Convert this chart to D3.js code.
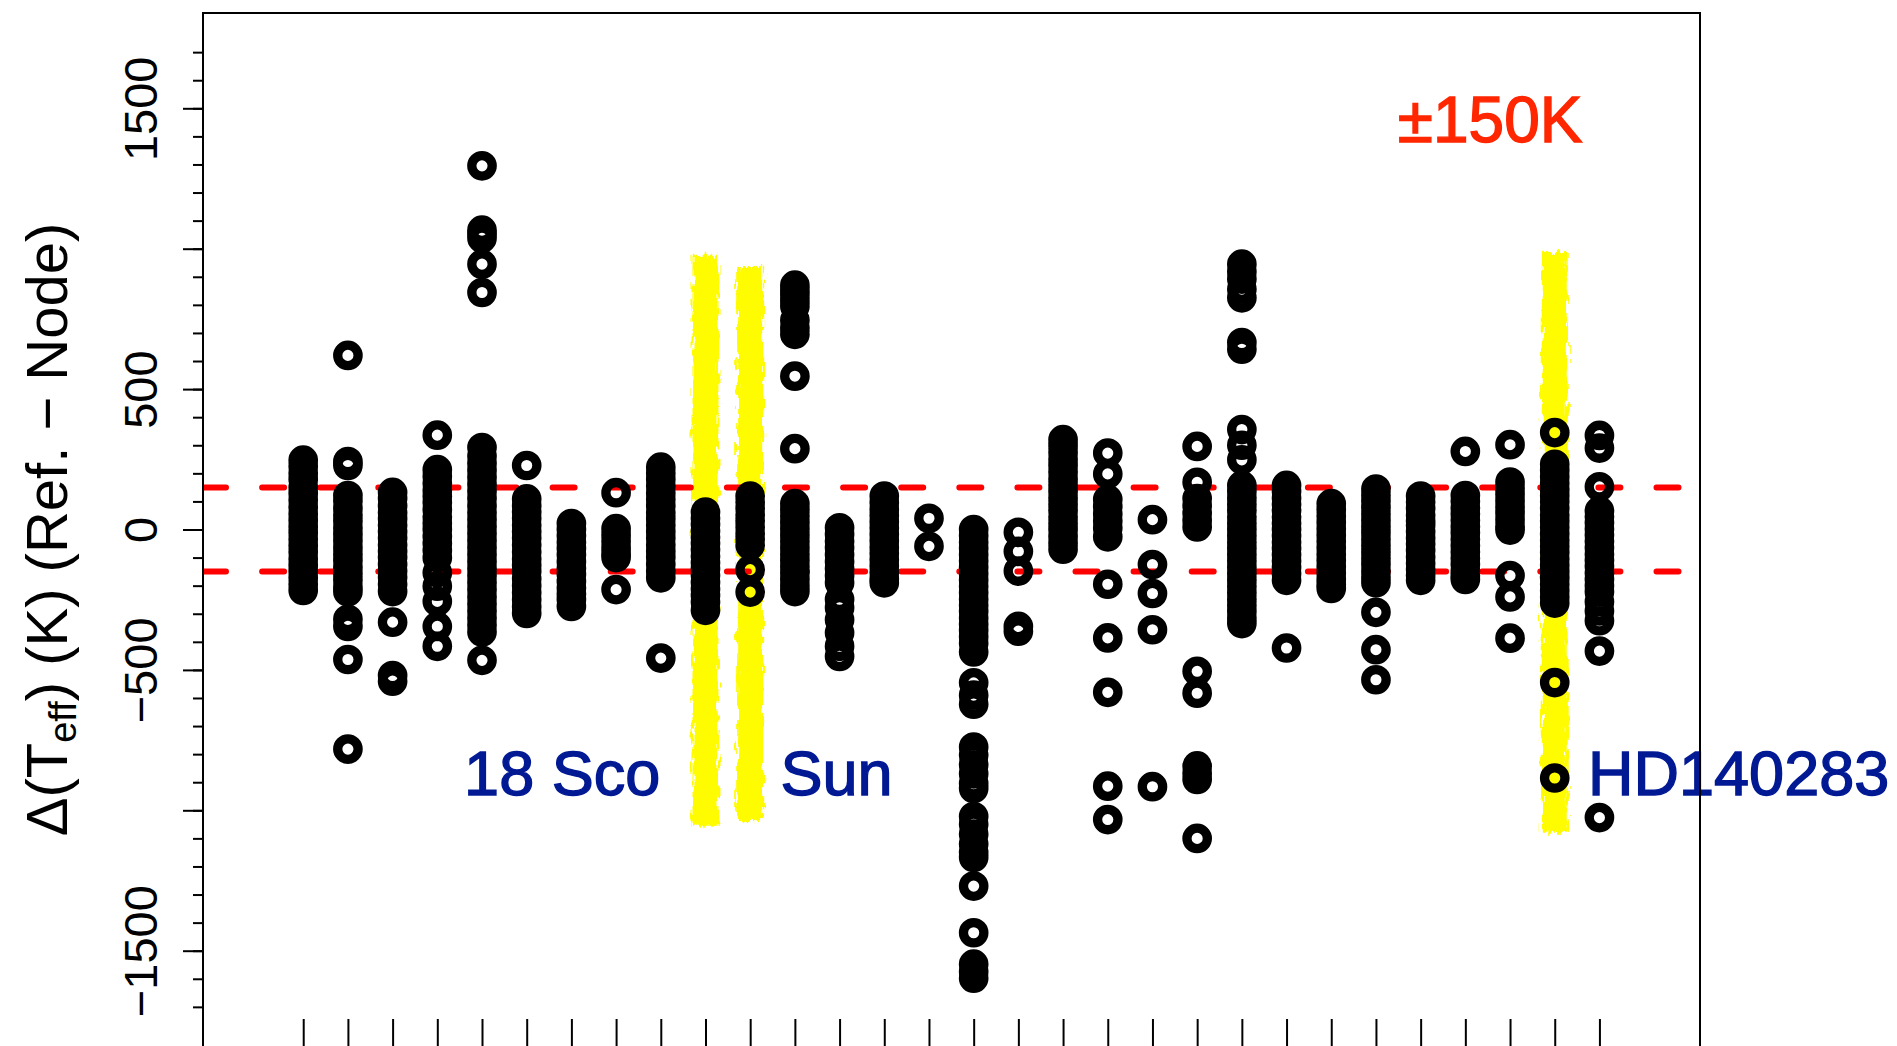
<!DOCTYPE html>
<html><head><meta charset="utf-8">
<script src="https://cdn.jsdelivr.net/npm/d3@7"></script>
<style>html,body{margin:0;padding:0;background:#fff;overflow:hidden}</style>
</head><body>
<svg id="chart" width="1897" height="1046"></svg>
<script>
// ---------- data ----------
const stars = [1,2,3,4,5,6,7,8,9,10,11,12,13,14,15,16,17,18,19,20,21,22,23,24,25,26,27,28,29,30];

const dTeff = [
  [247,225,200,178,150,128,105,80,55,32,10,-12,-35,-58,-80,-105,-128,-150,-172,-195,-217],
  [620,242,228,121,100,75,52,30,5,-18,-40,-65,-88,-110,-135,-158,-180,-205,-222,-320,-345,-463,-782],
  [132,110,85,60,38,15,-8,-30,-55,-78,-100,-125,-148,-170,-195,-221,-330,-520,-540],
  [336,213,190,165,140,118,95,70,45,22,0,-25,-50,-75,-101,-154,-202,-256,-345,-416],
  [1295,1066,1052,1037,945,844,292,262,235,210,185,160,135,110,85,60,35,10,-15,-40,-65,-90,-115,-140,-165,-190,-215,-240,-265,-290,-315,-340,-365,-466],
  [228,109,85,62,40,15,-8,-30,-55,-80,-105,-128,-150,-175,-200,-225,-250,-275,-299],
  [21,0,-22,-45,-68,-90,-115,-138,-160,-185,-208,-230,-249,-274],
  [131,3,-20,-42,-65,-85,-100,-214],
  [222,200,178,155,130,108,85,60,38,15,-8,-30,-55,-78,-100,-125,-150,-172,-458],
  [62,40,18,-5,-28,-50,-72,-95,-118,-140,-163,-189,-212,-235,-258,-288],
  [119,97,75,52,30,8,-15,-35,-56,-143,-223],
  [870,852,835,815,795,745,718,695,546,288,92,70,48,25,3,-20,-42,-65,-88,-110,-133,-155,-178,-200,-221],
  [6,-18,-42,-65,-90,-115,-140,-165,-190,-249,-279,-321,-368,-416,-452],
  [119,95,72,50,28,5,-18,-40,-63,-85,-108,-130,-152,-175,-190],
  [40,-60],
  [0,-22,-45,-68,-90,-112,-135,-158,-180,-202,-225,-248,-270,-292,-315,-338,-360,-382,-405,-436,-546,-590,-622,-775,-805,-838,-870,-905,-922,-1022,-1050,-1085,-1120,-1150,-1168,-1270,-1436,-1548,-1575,-1598],
  [-10,-78,-148,-345,-362],
  [320,298,275,250,228,205,180,158,135,112,90,68,45,22,0,-25,-48,-70],
  [272,198,107,82,55,30,5,-26,-195,-386,-580,-914,-1033],
  [35,-125,-228,-357,-916],
  [296,168,110,85,58,32,9,-505,-583,-842,-868,-890,-1100],
  [945,918,892,856,825,666,642,356,300,248,157,135,112,90,68,45,22,0,-22,-45,-68,-90,-112,-135,-158,-180,-202,-225,-248,-270,-292,-315,-335],
  [157,135,112,90,68,45,22,0,-22,-45,-68,-90,-112,-135,-158,-181,-422],
  [92,70,48,25,3,-20,-42,-65,-88,-110,-133,-155,-178,-195,-210],
  [144,122,100,78,55,32,10,-12,-35,-58,-80,-102,-125,-148,-170,-190,-295,-428,-535],
  [119,97,75,52,30,15,-8,-30,-52,-75,-98,-120,-142,-163,-181],
  [278,121,99,77,55,33,10,-12,-35,-58,-80,-102,-125,-148,-165,-178],
  [302,169,147,125,102,80,58,35,12,-2,-164,-240,-387],
  [345,232,210,188,165,142,120,98,75,52,30,8,-15,-38,-60,-82,-105,-128,-150,-172,-195,-218,-240,-262,-545,-885],
  [335,290,152,66,46,24,2,-20,-42,-65,-88,-110,-132,-155,-178,-200,-222,-257,-290,-325,-433,-1026]
];

const highlightStars = [10, 11, 29];
const highlightTop = [975, 935, 985];
const highlightBottom = [-1055, -1035, -1080];

const limitLines = [150, -150];
const limitLabel = "±150K";
const starNames = ["18 Sco", "Sun", "HD140283"];

const yMinorTicks = d3.range(-1700, 1701, 100);
const yMajorTicks = [1500, 1000, 500, 0, -500, -1000, -1500];
const yTickLabels = [1500, 500, 0, -500, -1500];

// ---------- layout ----------
const FONT = "'Liberation Sans', Arial, Helvetica, sans-serif";
const svg = d3.select("#chart");
const L = 203, R = 1700, T = 13, B = 1060;

const x = d3.scaleLinear().domain([-1.242, 32.25]).range([L, R]);
const y = d3.scaleLinear().domain([-1700, 1700]).range([529.5 + 0.2808 * 1700, 529.5 - 0.2808 * 1700]);

const defs = svg.append("defs");
defs.append("clipPath").attr("id", "plotclip")
  .append("rect").attr("x", L).attr("y", T).attr("width", R - L).attr("height", B - T);
const f = defs.append("filter").attr("id", "rough")
  .attr("x", "-40%").attr("y", "-5%").attr("width", "180%").attr("height", "110%");
f.append("feTurbulence").attr("type", "fractalNoise").attr("baseFrequency", "0.3 0.07")
  .attr("numOctaves", 2).attr("seed", 4).attr("result", "n");
f.append("feDisplacementMap").attr("in", "SourceGraphic").attr("in2", "n")
  .attr("scale", 12).attr("xChannelSelector", "R").attr("yChannelSelector", "G");

svg.append("rect").attr("width", 1897).attr("height", 1046).attr("fill", "#fff");

// highlight bands
svg.append("g").selectAll("rect").data(highlightStars).join("rect")
  .attr("x", d => x(d) - 13).attr("width", 26)
  .attr("y", (d, i) => y(highlightTop[i]))
  .attr("height", (d, i) => y(highlightBottom[i]) - y(highlightTop[i]))
  .attr("fill", "#FFFC00").attr("filter", "url(#rough)");

// ±150 K dashed lines
svg.append("g").attr("clip-path", "url(#plotclip)").selectAll("line").data(limitLines).join("line")
  .attr("x1", L + 1).attr("x2", R).attr("y1", d => y(d)).attr("y2", d => y(d))
  .attr("stroke", "#FF0000").attr("stroke-width", 6).attr("stroke-linecap", "round")
  .attr("stroke-dasharray", "22 36.1");

// points
const pts = [];
stars.forEach((s, i) => dTeff[i].forEach(v => pts.push({ s, v })));
svg.append("g").selectAll("circle").data(pts).join("circle")
  .attr("cx", d => x(d.s)).attr("cy", d => y(d.v)).attr("r", 10.2)
  .attr("fill", "none").attr("stroke", "#000").attr("stroke-width", 9.3);

// y axis: minor + major ticks
const gMinor = svg.append("g").attr("transform", `translate(${L},0)`)
  .call(d3.axisLeft(y).tickValues(yMinorTicks).tickSize(10).tickFormat(""));
gMinor.select(".domain").remove();
gMinor.selectAll(".tick line").attr("stroke", "#000").attr("stroke-width", 2);

const fmt = d => (d < 0 ? "\u2212" + Math.abs(d) : String(d));
const gMajor = svg.append("g").attr("transform", `translate(${L},0)`)
  .call(d3.axisLeft(y).tickValues(yMajorTicks).tickSize(20)
    .tickFormat(d => yTickLabels.includes(d) ? fmt(d) : ""));
gMajor.select(".domain").remove();
gMajor.selectAll(".tick line").attr("stroke", "#000").attr("stroke-width", 2);
gMajor.selectAll(".tick text")
  .attr("transform", "rotate(-90)").attr("x", 0).attr("y", -46).attr("dy", 0)
  .attr("text-anchor", "middle").attr("fill", "#000")
  .style("font-family", FONT).style("font-size", "47px");

// x axis ticks (labels fall below the visible area)
const gx = svg.append("g").attr("transform", "translate(0,1019)")
  .call(d3.axisBottom(x).tickValues(stars).tickSize(40).tickFormat(""));
gx.select(".domain").remove();
gx.selectAll(".tick line").attr("stroke", "#000").attr("stroke-width", 2);

// y axis title
const title = svg.append("text")
  .attr("transform", "translate(67,529.5) rotate(-90)")
  .attr("text-anchor", "middle").attr("fill", "#000")
  .style("font-family", FONT).style("font-size", "58px");
title.append("tspan").text("\u0394(T");
title.append("tspan").attr("dy", 9).style("font-size", "38px").text("eff");
title.append("tspan").attr("dy", -9).text(") (K) (Ref. \u2212 Node)");

// annotations
const ann = svg.append("g").style("font-family", FONT);
ann.append("text").attr("x", x(25.49)).attr("y", y(1381)).attr("fill", "#FF2600")
  .attr("stroke", "#FF2600").attr("stroke-width", 1.4)
  .style("font-size", "64px").text(limitLabel);
const nameAt = [4.6, 11.68, 29.745];
ann.selectAll("text.name").data(starNames).join("text").attr("class", "name")
  .attr("x", (d, i) => x(nameAt[i])).attr("y", y(-945)).attr("fill", "#011993")
  .attr("stroke", "#011993").attr("stroke-width", 1.4)
  .style("font-size", "63px").text(d => d);

// frame
svg.append("rect").attr("x", L).attr("y", T).attr("width", R - L).attr("height", B - T)
  .attr("fill", "none").attr("stroke", "#000").attr("stroke-width", 2);
</script>
</body></html>
